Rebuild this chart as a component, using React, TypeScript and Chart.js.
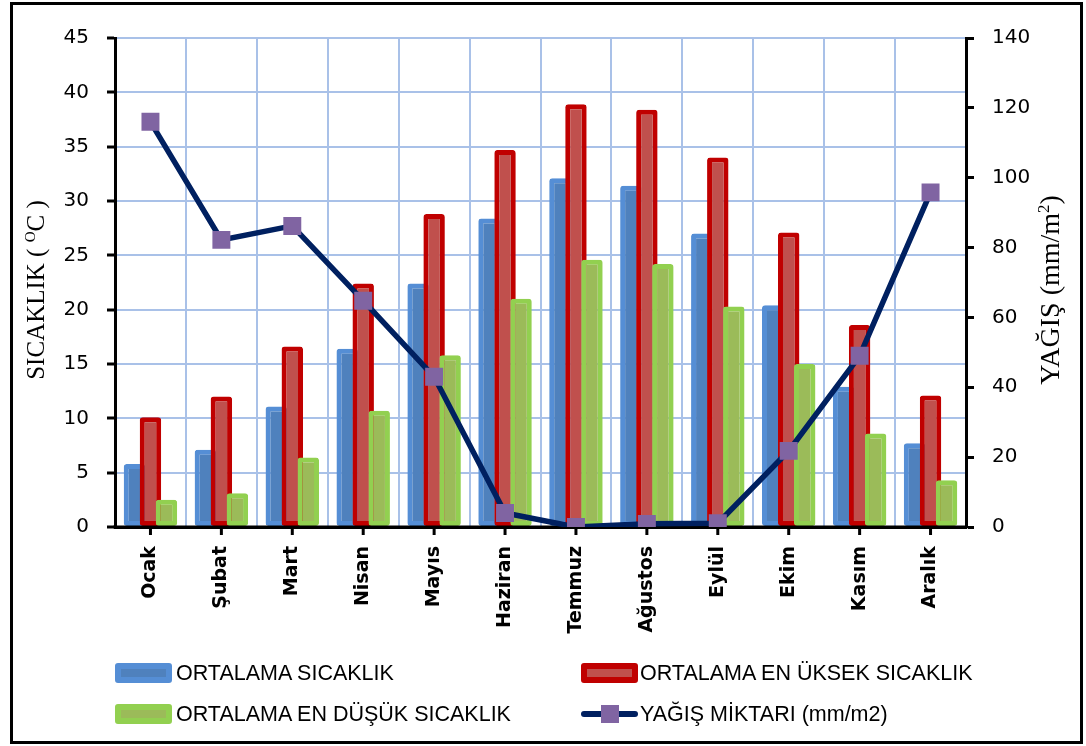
import React, { useEffect, useRef } from 'react';
import { Chart, registerables } from 'chart.js';

Chart.register(...registerables);

const months = ['Ocak', 'Şubat', 'Mart', 'Nisan', 'Mayıs', 'Haziran', 'Temmuz', 'Ağustos', 'Eylül', 'Ekim', 'Kasım', 'Aralık'];
const ortalamaSicaklik = [5.8, 7.1, 11.1, 16.4, 22.4, 28.4, 32.1, 31.4, 27.0, 20.4, 12.9, 7.7];
const enYuksekSicaklik = [10.1, 12.0, 16.6, 22.4, 28.8, 34.7, 38.9, 38.4, 34.0, 27.1, 18.6, 12.1];
const enDusukSicaklik = [2.5, 3.1, 6.4, 10.7, 15.8, 21.0, 24.6, 24.2, 20.3, 15.0, 8.6, 4.3];
const yagisMiktari = [116.0, 82.2, 86.2, 64.8, 43.0, 4.0, 0, 0.9, 1.1, 21.8, 49.0, 95.8];

const tempMin = 0;
const tempMax = 45;
const tempStep = 5;
const rainMin = 0;
const rainMax = 140;
const rainStep = 20;

const seriesLabels = [
  'ORTALAMA SICAKLIK',
  'ORTALAMA EN ÜKSEK SICAKLIK',
  'ORTALAMA EN DÜŞÜK SICAKLIK',
  'YAĞIŞ MİKTARI (mm/m2)',
];

const GRID = '#A9C1E8';
const BLUE_OUT = '#558ED5';
const BLUE_IN = '#4F81BD';
const RED_OUT = '#C00000';
const RED_IN = '#C0504D';
const GREEN_OUT = '#92D050';
const GREEN_IN = '#9BBB59';
const NAVY = '#002060';
const PURPLE = '#8064A2';

// Bars are drawn left-to-right (blue, red, green) so that each later bar
// overlaps the previous one, then the axis line, then the rain line on top.
let manualDraw = false;
const layerOrder = {
  id: 'layerOrder',
  beforeDatasetDraw(chart: any, args: any) {
    if (args.index < 3) return manualDraw;
    const { ctx, chartArea } = chart;
    manualDraw = true;
    for (let i = 0; i < 3; i++) {
      const meta = chart.getDatasetMeta(i);
      if (meta && meta.controller) meta.controller.draw();
    }
    manualDraw = false;
    const xs = chart.scales.x;
    ctx.save();
    ctx.strokeStyle = '#000';
    ctx.lineWidth = 3;
    ctx.beginPath();
    ctx.moveTo(chartArea.left - 1.5, chartArea.bottom);
    ctx.lineTo(chartArea.right + 1.5, chartArea.bottom);
    ctx.stroke();
    for (let i = 0; i < months.length; i++) {
      const px = xs.getPixelForValue(i);
      ctx.beginPath();
      ctx.moveTo(px, chartArea.bottom);
      ctx.lineTo(px, chartArea.bottom + 8);
      ctx.stroke();
    }
    ctx.restore();
    return true;
  },
};

function Swatch({ out, inner }: { out: string; inner: string }) {
  return (
    <div
      style={{
        width: 57,
        height: 20,
        boxSizing: 'border-box',
        border: `6px solid ${out}`,
        borderRadius: 3,
        background: inner,
      }}
    />
  );
}

export default function App() {
  const canvasRef = useRef<HTMLCanvasElement | null>(null);

  useEffect(() => {
    if (!canvasRef.current) return;
    const barCommon = {
      type: 'bar' as const,
      yAxisID: 'y',
      borderWidth: 5,
      borderSkipped: false,
      borderRadius: 3,
      categoryPercentage: 0.677,
      barPercentage: 1.34,
      order: 1,
    };
    const chart = new Chart(canvasRef.current, {
      type: 'bar',
      data: {
        labels: months,
        datasets: [
          { ...barCommon, label: seriesLabels[0], data: ortalamaSicaklik, backgroundColor: BLUE_IN, borderColor: BLUE_OUT },
          { ...barCommon, label: seriesLabels[1], data: enYuksekSicaklik, backgroundColor: RED_IN, borderColor: RED_OUT },
          { ...barCommon, label: seriesLabels[2], data: enDusukSicaklik, backgroundColor: GREEN_IN, borderColor: GREEN_OUT },
          {
            type: 'line' as const,
            label: seriesLabels[3],
            data: yagisMiktari,
            yAxisID: 'y1',
            borderColor: NAVY,
            borderWidth: 5.5,
            tension: 0,
            pointStyle: 'rect',
            pointRadius: 12.7,
            pointBackgroundColor: PURPLE,
            pointBorderColor: PURPLE,
            pointBorderWidth: 0,
            order: 0,
          } as any,
        ],
      },
      options: {
        responsive: false,
        animation: false,
        devicePixelRatio: 1,
        layout: { padding: { top: 38, left: 0, right: 0, bottom: 0 } },
        plugins: {
          legend: { display: false },
          tooltip: { enabled: false },
          title: { display: false },
        },
        scales: {
          x: {
            offset: true,
            grid: { offset: true, color: GRID, lineWidth: 2, drawTicks: false },
            border: { color: '#000', width: 3 },
            ticks: {
              autoSkip: false,
              minRotation: 90,
              maxRotation: 90,
              padding: 19,
              color: '#000',
              font: { family: 'DejaVu Sans', size: 19, weight: 'bold' },
            },
            afterFit: (s: any) => {
              s.height = 219;
            },
          },
          y: {
            position: 'left',
            min: tempMin,
            max: tempMax,
            ticks: {
              stepSize: tempStep,
              padding: 18,
              color: '#000',
              font: { family: 'DejaVu Sans', size: 20 },
            },
            grid: { color: GRID, lineWidth: 2, tickColor: '#000', tickWidth: 3, tickLength: 8 },
            border: { color: '#000', width: 3 },
            afterFit: (s: any) => {
              s.width = 115;
            },
          },
          y1: {
            position: 'right',
            min: rainMin,
            max: rainMax,
            ticks: {
              stepSize: rainStep,
              padding: 18,
              color: '#000',
              font: { family: 'DejaVu Sans', size: 20 },
            },
            grid: { drawOnChartArea: false, tickColor: '#000', tickWidth: 3, tickLength: 8 },
            border: { color: '#000', width: 3 },
            afterFit: (s: any) => {
              s.width = 120;
            },
          },
        },
      } as any,
      plugins: [layerOrder],
    });
    return () => chart.destroy();
  }, []);

  const legendText: React.CSSProperties = {
    position: 'absolute',
    fontFamily: '"Liberation Sans", Arial, sans-serif',
    fontSize: 21.5,
    lineHeight: '24px',
    color: '#000',
    whiteSpace: 'nowrap',
  };

  return (
    <div style={{ position: 'absolute', left: 0, top: 0, width: 1086, height: 746, background: '#fff', overflow: 'hidden' }}>
      <canvas ref={canvasRef} width={1086} height={746} style={{ position: 'absolute', left: 0, top: 0, width: 1086, height: 746 }} />
      <div
        style={{
          position: 'absolute',
          left: 10,
          top: 2,
          width: 1073,
          height: 742,
          boxSizing: 'border-box',
          border: '3px solid #000',
          pointerEvents: 'none',
        }}
      />
      <div
        style={{
          position: 'absolute',
          left: 36,
          top: 290,
          transform: 'translate(-50%, -50%) rotate(-90deg)',
          fontFamily: '"Liberation Serif", "Times New Roman", serif',
          fontSize: 25,
          whiteSpace: 'nowrap',
          color: '#000',
        }}
      >
        SICAKLIK ( <sup style={{ fontSize: '0.6em' }}>O</sup>C )
      </div>
      <div
        style={{
          position: 'absolute',
          left: 1050,
          top: 290,
          transform: 'translate(-50%, -50%) rotate(-90deg)',
          fontFamily: '"Liberation Serif", "Times New Roman", serif',
          fontSize: 28,
          whiteSpace: 'nowrap',
          color: '#000',
        }}
      >
        YAĞIŞ (mm/m<sup style={{ fontSize: '0.6em' }}>2</sup>)
      </div>

      <div style={{ position: 'absolute', left: 115, top: 663 }}>
        <Swatch out={BLUE_OUT} inner={BLUE_IN} />
      </div>
      <div style={{ ...legendText, left: 176, top: 661 }}>{seriesLabels[0]}</div>

      <div style={{ position: 'absolute', left: 581, top: 663 }}>
        <Swatch out={RED_OUT} inner={RED_IN} />
      </div>
      <div style={{ ...legendText, left: 640, top: 661 }}>{seriesLabels[1]}</div>

      <div style={{ position: 'absolute', left: 115, top: 704 }}>
        <Swatch out={GREEN_OUT} inner={GREEN_IN} />
      </div>
      <div style={{ ...legendText, left: 176, top: 702 }}>{seriesLabels[2]}</div>

      <div style={{ position: 'absolute', left: 581, top: 711, width: 57, height: 6, borderRadius: 3, background: NAVY }} />
      <div style={{ position: 'absolute', left: 601, top: 705, width: 18, height: 18, background: PURPLE }} />
      <div style={{ ...legendText, left: 640, top: 702 }}>{seriesLabels[3]}</div>
    </div>
  );
}
